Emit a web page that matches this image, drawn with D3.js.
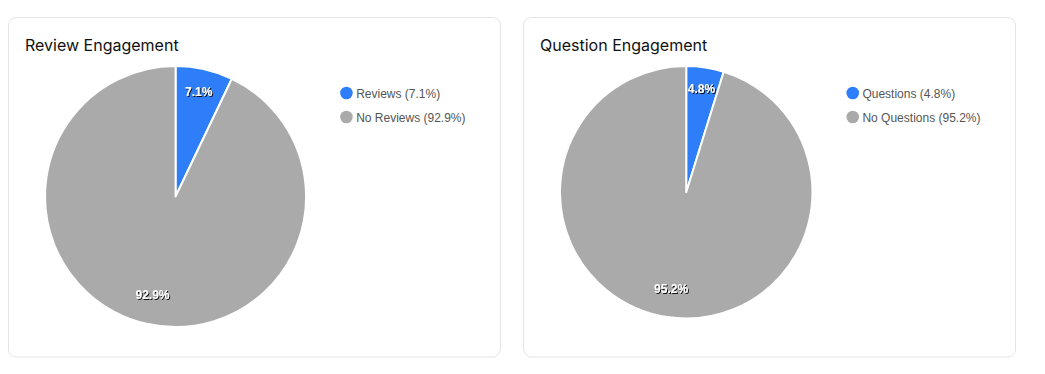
<!DOCTYPE html>
<html>
<head>
<meta charset="utf-8">
<script src="https://cdn.jsdelivr.net/npm/d3@7/dist/d3.min.js"></script>
<style>
  html, body { margin: 0; padding: 0; background: #ffffff; }
  svg { display: block; }
</style>
</head>
<body>
<svg id="chart" width="1045" height="374"></svg>
<script>
// ---- data ----
const chartTitles = ["Review Engagement", "Question Engagement"];
const reviewLabels = ["Reviews", "No Reviews"];
const reviewValues = [7.1, 92.9];
const questionLabels = ["Questions", "No Questions"];
const questionValues = [4.8, 95.2];
const sliceColors = ["#2d7ef8", "#aaaaaa"];

const panels = [
  { title: chartTitles[0], labels: reviewLabels, values: reviewValues },
  { title: chartTitles[1], labels: questionLabels, values: questionValues }
];

const svg = d3.select("#chart");
const defs = svg.append("defs");
const filt = defs.append("filter").attr("id", "tshadow")
  .attr("x", "-20%").attr("y", "-40%").attr("width", "140%").attr("height", "180%");
filt.append("feDropShadow").attr("dx", 1).attr("dy", 1).attr("stdDeviation", 0.7)
  .attr("flood-color", "#000").attr("flood-opacity", 0.9);

const cardX = d3.scaleBand().domain(d3.range(panels.length)).range([8, 1016]).paddingInner(0.0425);
const cardTop = 17.5, cardH = 339.5;

panels.forEach((p, i) => {
  const x1 = Math.round(cardX(i) + cardX.bandwidth()) - 0.5;
  const x0 = Math.round(cardX(i)) + 0.5;
  const w = x1 - x0;
  const g = svg.append("g");
  g.append("rect").attr("x", x0).attr("y", cardTop).attr("width", w).attr("height", cardH)
    .attr("rx", 8).attr("fill", "#fff").attr("stroke", "#e3e4e8").attr("stroke-width", 1);

  g.append("text").attr("x", x0 + 16.5).attr("y", 50.5)
    .attr("font-family", "Inter, 'Noto Sans', sans-serif").attr("font-size", 16)
    .attr("fill", "#111").text(p.title);

  const total = d3.sum(p.values);
  const legendTexts = p.labels.map((l, k) => `${l} (${(p.values[k] / total * 100).toFixed(1)}%)`);

  // legend
  const lg = g.append("g");
  const items = lg.selectAll("g").data(legendTexts).join("g");
  items.append("text")
    .attr("font-family", "'Liberation Sans', Arial, sans-serif").attr("font-size", 12)
    .attr("fill", "#555").attr("y", (d, k) => 97.5 + k * 24).text(d => d);
  let maxW = 0;
  items.select("text").each(function () { maxW = Math.max(maxW, this.getComputedTextLength()); });
  const legendLeft = x1 - 35 - 16 - maxW;
  items.select("text").attr("x", legendLeft + 16);
  items.append("circle").attr("cx", legendLeft + 6.3).attr("cy", (d, k) => 93 + k * 24).attr("r", 6.3)
    .attr("fill", (d, k) => sliceColors[k]);

  // pie
  const areaL = x0 + 36.5, areaR = legendLeft - 34;
  const r = Math.min((areaR - areaL) / 2, 130.5);
  const cx = (areaL + areaR) / 2, cy = 66 + r;
  const pie = d3.pie().sort(null).value(d => d);
  const arcs = pie(p.values);
  const arc = d3.arc().innerRadius(0).outerRadius(r);
  const lab = d3.arc().innerRadius(r * 0.8).outerRadius(r * 0.8);
  const pg = g.append("g").attr("transform", `translate(${cx},${cy})`);
  pg.selectAll("path").data(arcs).join("path")
    .attr("d", arc).attr("fill", (d, k) => sliceColors[k])
    .attr("stroke", "#fff").attr("stroke-width", 2).attr("stroke-linejoin", "round");
  pg.selectAll("text").data(arcs).join("text")
    .attr("transform", d => { const c = lab.centroid(d); return `translate(${c[0]},${c[1] - 3})`; })
    .attr("text-anchor", "middle").attr("dominant-baseline", "central")
    .attr("font-family", "'Liberation Sans', Arial, sans-serif").attr("font-weight", "bold")
    .attr("font-size", 12).attr("fill", "#fff").attr("filter", "url(#tshadow)")
    .text(d => (d.data / total * 100).toFixed(1) + "%");
});
</script>
</body>
</html>
